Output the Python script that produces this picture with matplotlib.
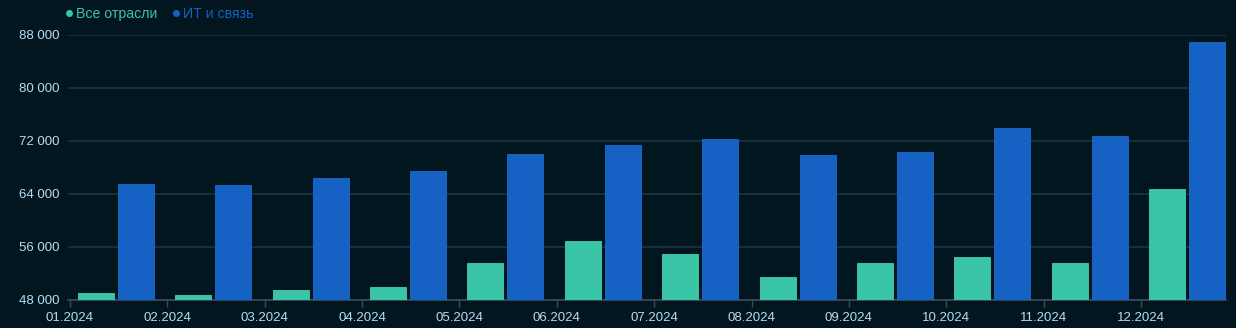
import matplotlib
matplotlib.use("Agg")
import matplotlib.pyplot as plt
from matplotlib.lines import Line2D
from matplotlib.ticker import FuncFormatter, FixedLocator
import numpy as np

months = ["01.2024", "02.2024", "03.2024", "04.2024", "05.2024", "06.2024",
          "07.2024", "08.2024", "09.2024", "10.2024", "11.2024", "12.2024"]
all_industries = [49050, 48750, 49550, 49950, 53650, 56950,
                  55000, 51450, 53550, 54450, 53600, 64750]
it_comm = [65550, 65300, 66350, 67400, 70000, 71350,
           72250, 69900, 70350, 73900, 72750, 87000]
series_names = ["Все отрасли", "ИТ и связь"]
y_ticks = [48000, 56000, 64000, 72000, 80000, 88000]

BG = "#021620"
GREEN = "#3ac5a6"
BLUE = "#1661c4"
GRID = "#1d3540"
TICK_TXT = "#b5dcf2"

plt.rcParams['font.family'] = ['Liberation Sans', 'DejaVu Sans']

fig = plt.figure(figsize=(12.36, 3.28), dpi=100, facecolor=BG)
ax = fig.add_axes([68/1236, 28/328, (1226-68)/1236, (300-35)/328])
ax.set_facecolor(BG)

step = 97.36
x = np.arange(len(months))
w = 36/step
ax.bar(x + 26/step, all_industries, width=w, color=GREEN, edgecolor="#45cfb0",
       linewidth=0.6, zorder=3)
ax.bar(x + 66/step, it_comm, width=w, color=BLUE, edgecolor="#2069cc",
       linewidth=0.6, zorder=3)

ax.set_xlim(-2/step, (1226-70)/step)
ax.set_ylim(48000, 88000)
ax.yaxis.set_major_locator(FixedLocator(y_ticks))
ax.yaxis.set_major_formatter(FuncFormatter(lambda v, p: f"{int(v):,}".replace(",", " ")))
ax.set_xticks(x)
ax.set_xticklabels(months)
ax.grid(axis='y', color=GRID, linewidth=1.2, zorder=0)
ax.grid(axis='x', visible=False)
for s in ["top", "right", "left"]:
    ax.spines[s].set_visible(False)
ax.spines["bottom"].set_color("#3c4c58")
ax.spines["bottom"].set_linewidth(1.2)
ax.tick_params(axis='y', length=0, pad=6, labelsize=9.5, labelcolor=TICK_TXT)
ax.tick_params(axis='x', length=5, width=1, color="#3c4c58", pad=3.5,
               labelsize=9.5, labelcolor=TICK_TXT)

handles = [Line2D([], [], marker='o', linestyle='none', markersize=4,
                  color=GREEN, label=series_names[0]),
           Line2D([], [], marker='o', linestyle='none', markersize=4,
                  color=BLUE, label=series_names[1])]
leg = fig.legend(handles=handles, loc='center left', bbox_to_anchor=(55/1236, 1 - 14/328),
                 ncol=2, frameon=False, fontsize=10.2, handletextpad=0.0,
                 columnspacing=0.8, handlelength=1.0, borderpad=0)
for t, c in zip(leg.get_texts(), [GREEN, BLUE]):
    t.set_color(c)

fig.savefig("out.png", dpi=100, facecolor=BG)
